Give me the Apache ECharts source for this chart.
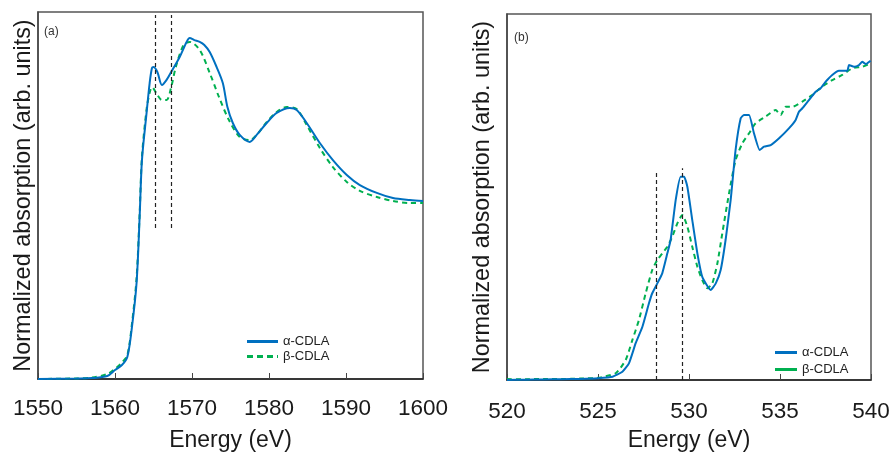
<!DOCTYPE html>
<html>
<head>
<meta charset="utf-8">
<title>XANES</title>
<script src="https://cdn.jsdelivr.net/npm/echarts@6/dist/echarts.min.js"></script>
<style>
html, body { margin: 0; padding: 0; background: #fff; }
#chart { width: 893px; height: 452px; }
</style>
</head>
<body>
<div id="chart"></div>
<script>
// panel (a): Al K-edge
var energyAlphaA = [1550, 1555, 1557, 1559, 1560, 1560.9, 1561.6, 1562.2, 1562.8, 1563.2, 1563.5, 1564.1, 1564.5, 1564.8, 1565.0, 1565.5, 1566.1, 1566.7, 1567.3, 1568.4, 1569.3, 1569.7, 1570.3, 1571.0, 1571.6, 1572.3, 1573.2, 1574.0, 1574.6, 1575.3, 1576.2, 1577.5, 1578.4, 1579.7, 1581.0, 1582.7, 1583.6, 1584.9, 1586.6, 1588.3, 1590.1, 1591.8, 1594.0, 1596.1, 1598.3, 1600];
var alphaA = [0, 0.003, 0.005, 0.016, 0.049, 0.076, 0.12, 0.283, 0.523, 0.883, 1.193, 1.45, 1.613, 1.695, 1.70, 1.673, 1.602, 1.63, 1.673, 1.755, 1.837, 1.858, 1.847, 1.837, 1.82, 1.782, 1.70, 1.613, 1.482, 1.395, 1.33, 1.292, 1.33, 1.395, 1.45, 1.477, 1.466, 1.395, 1.286, 1.193, 1.112, 1.057, 1.014, 0.986, 0.975, 0.97];
var energyBetaA = [1550, 1555, 1557, 1559, 1560, 1560.9, 1561.6, 1562.2, 1562.8, 1563.2, 1563.5, 1564.1, 1564.5, 1564.8, 1565.5, 1566.1, 1566.7, 1567.3, 1567.9, 1568.9, 1569.7, 1571.0, 1572.3, 1573.5, 1574.8, 1576.2, 1577.5, 1578.4, 1579.7, 1581.0, 1582.3, 1583.6, 1584.9, 1586.6, 1588.3, 1590.1, 1591.8, 1594.0, 1596.1, 1598.3, 1600];
var betaA = [0, 0.003, 0.008, 0.027, 0.055, 0.09, 0.13, 0.30, 0.55, 0.90, 1.21, 1.47, 1.56, 1.59, 1.548, 1.52, 1.52, 1.591, 1.70, 1.82, 1.837, 1.793, 1.668, 1.537, 1.411, 1.319, 1.302, 1.33, 1.40, 1.455, 1.482, 1.471, 1.384, 1.259, 1.155, 1.074, 1.025, 0.992, 0.97, 0.959, 0.959];
var refLinesA = [1565.2, 1567.3];
var refRangeA = [0.823, 1.984];
var ticksA = [1550, 1600, 10];

// panel (b): O K-edge
var energyAlphaB = [520, 521, 522, 523, 524, 525, 525.8, 526.34, 526.7, 527.07, 527.44, 527.8, 527.98, 528.26, 528.53, 528.81, 528.99, 529.27, 529.54, 529.73, 529.91, 530.18, 530.46, 530.73, 531.19, 531.47, 531.74, 532.01, 532.29, 532.56, 532.84, 533.02, 533.3, 533.57, 533.88, 534.12, 534.49, 534.95, 535.49, 535.86, 536.04, 536.23, 536.59, 536.96, 537.23, 537.51, 537.87, 538.24, 538.7, 538.79, 539.07, 539.34, 539.52, 539.71, 539.98];
var alphaB = [0, 0.002, 0.003, 0.004, 0.006, 0.01, 0.018, 0.045, 0.091, 0.201, 0.291, 0.419, 0.474, 0.528, 0.583, 0.692, 0.765, 0.984, 1.111, 1.111, 1.056, 0.874, 0.692, 0.564, 0.492, 0.528, 0.601, 0.765, 0.984, 1.257, 1.43, 1.448, 1.448, 1.348, 1.257, 1.275, 1.284, 1.321, 1.375, 1.421, 1.466, 1.485, 1.53, 1.575, 1.594, 1.63, 1.667, 1.69, 1.69, 1.721, 1.712, 1.721, 1.739, 1.727, 1.745];
var energyBetaB = [520, 521, 522, 523, 524, 525, 525.97, 526.52, 526.89, 527.25, 527.62, 527.98, 528.26, 528.53, 528.81, 529.08, 529.36, 529.63, 529.91, 530.18, 530.46, 530.73, 531.01, 531.28, 531.56, 531.83, 532.2, 532.56, 532.93, 533.3, 533.66, 534.21, 534.76, 535.04, 535.31, 535.68, 536.23, 536.77, 537.32, 537.87, 538.42, 538.97, 539.52, 539.98];
var betaB = [0.005, 0.004, 0.006, 0.005, 0.008, 0.012, 0.037, 0.109, 0.219, 0.328, 0.474, 0.601, 0.656, 0.692, 0.728, 0.783, 0.856, 0.902, 0.838, 0.728, 0.619, 0.546, 0.501, 0.528, 0.638, 0.802, 1.02, 1.202, 1.293, 1.348, 1.403, 1.439, 1.475, 1.448, 1.493, 1.493, 1.521, 1.557, 1.603, 1.639, 1.667, 1.703, 1.712, 1.73];
var refLinesB = [528.19, 529.63];
var refTopsB = [1.144, 1.157];
var ticksB = [520, 540, 5];

var seriesNames = ['α-CDLA', 'β-CDLA'];
var blue = '#0070C0', green = '#00B050';
var fontName = 'Liberation Sans';

// legend icons: a plain bar and a dashed bar
var solidIcon = 'path://M0,0h31v3h-31z';
var dashIcon = 'path://M0,0h6v3h-6z M10,0h6v3h-6z M20,0h6v3h-6z M30,0h1v3h-1z';

function zip(xs, ys) {
    var out = [];
    for (var i = 0; i < xs.length; i++) out.push([xs[i], ys[i]]);
    return out;
}

function xAxisFor(idx, t, margin, gap) {
    return {
        type: 'value', gridIndex: idx, min: t[0], max: t[1], interval: t[2],
        name: 'Energy (eV)', nameLocation: 'middle', nameGap: gap,
        nameTextStyle: { fontFamily: fontName, fontSize: 23, color: '#1a1a1a' },
        axisLine: { lineStyle: { color: '#222', width: 1.5 } },
        axisTick: { inside: true, length: 6, lineStyle: { color: '#444' } },
        axisLabel: {
            fontFamily: fontName, fontSize: 22.5, color: '#1a1a1a', margin: margin,
            formatter: function (v) { return String(v); }
        },
        splitLine: { show: false }
    };
}

function yAxisFor(idx, gap) {
    return {
        type: 'value', gridIndex: idx, min: 0, max: 2,
        name: 'Normalized absorption (arb. units)', nameLocation: 'middle', nameGap: gap,
        nameTextStyle: { fontFamily: fontName, fontSize: 23.4, color: '#1a1a1a' },
        axisLine: { show: true, lineStyle: { color: '#444', width: 1.5 } },
        axisTick: { show: false },
        axisLabel: { show: false },
        splitLine: { show: false }
    };
}

function refLines(xs, lows, highs) {
    var data = [];
    for (var i = 0; i < xs.length; i++) {
        data.push([{ coord: [xs[i], lows[i]] }, { coord: [xs[i], highs[i]] }]);
    }
    return {
        silent: true, symbol: ['none', 'none'], label: { show: false },
        lineStyle: { color: '#222', type: [4, 3], width: 1.2 },
        data: data
    };
}

var chart = echarts.init(document.getElementById('chart'));
chart.setOption({
    animation: false,
    backgroundColor: '#fff',
    grid: [
        { left: 38, top: 12, width: 385, height: 367, show: true, borderColor: '#555', borderWidth: 1.5, outerBoundsMode: 'none', containLabel: false },
        { left: 507, top: 14, width: 364, height: 366, show: true, borderColor: '#555', borderWidth: 1.5, outerBoundsMode: 'none', containLabel: false }
    ],
    xAxis: [xAxisFor(0, ticksA, 18, 50), xAxisFor(1, ticksB, 20, 49)],
    yAxis: [yAxisFor(0, 3), yAxisFor(1, 13)],
    legend: [
        {
            orient: 'vertical', left: 242, top: 330, itemWidth: 31, itemHeight: 3, itemGap: 2,
            symbolKeepAspect: false,
            textStyle: { fontFamily: fontName, fontSize: 13, color: '#222' },
            data: [
                { name: seriesNames[0] + ' ', icon: solidIcon },
                { name: seriesNames[1] + ' ', icon: dashIcon }
            ]
        },
        {
            orient: 'vertical', left: 770, top: 341, itemWidth: 22, itemHeight: 3, itemGap: 4,
            symbolKeepAspect: false,
            textStyle: { fontFamily: fontName, fontSize: 13, color: '#222' },
            data: [
                { name: seriesNames[0], icon: solidIcon },
                { name: seriesNames[1], icon: solidIcon }
            ]
        }
    ],
    graphic: [
        { type: 'text', left: 44, top: 26, style: { text: '(a)', fontFamily: fontName, fontSize: 12, fill: '#333' } },
        { type: 'text', left: 514, top: 32, style: { text: '(b)', fontFamily: fontName, fontSize: 12, fill: '#333' } }
    ],
    series: [
        {
            name: seriesNames[1] + ' ', type: 'line', xAxisIndex: 0, yAxisIndex: 0,
            data: zip(energyBetaA, betaA), symbol: 'none', smooth: 0.3,
            lineStyle: { color: green, width: 2, type: [5, 4] }, itemStyle: { color: green }, z: 2
        },
        {
            name: seriesNames[0] + ' ', type: 'line', xAxisIndex: 0, yAxisIndex: 0,
            data: zip(energyAlphaA, alphaA), symbol: 'none', smooth: 0.3,
            lineStyle: { color: blue, width: 2 }, itemStyle: { color: blue }, z: 3,
            markLine: refLines(refLinesA, [refRangeA[0], refRangeA[0]], [refRangeA[1], refRangeA[1]])
        },
        {
            name: seriesNames[1], type: 'line', xAxisIndex: 1, yAxisIndex: 1,
            data: zip(energyBetaB, betaB), symbol: 'none', smooth: 0.2,
            lineStyle: { color: green, width: 2, type: [5, 4] }, itemStyle: { color: green }, z: 2
        },
        {
            name: seriesNames[0], type: 'line', xAxisIndex: 1, yAxisIndex: 1,
            data: zip(energyAlphaB, alphaB), symbol: 'none', smooth: 0.15,
            lineStyle: { color: blue, width: 2 }, itemStyle: { color: blue }, z: 3,
            markLine: refLines(refLinesB, [0, 0], refTopsB)
        }
    ]
});
</script>
</body>
</html>
